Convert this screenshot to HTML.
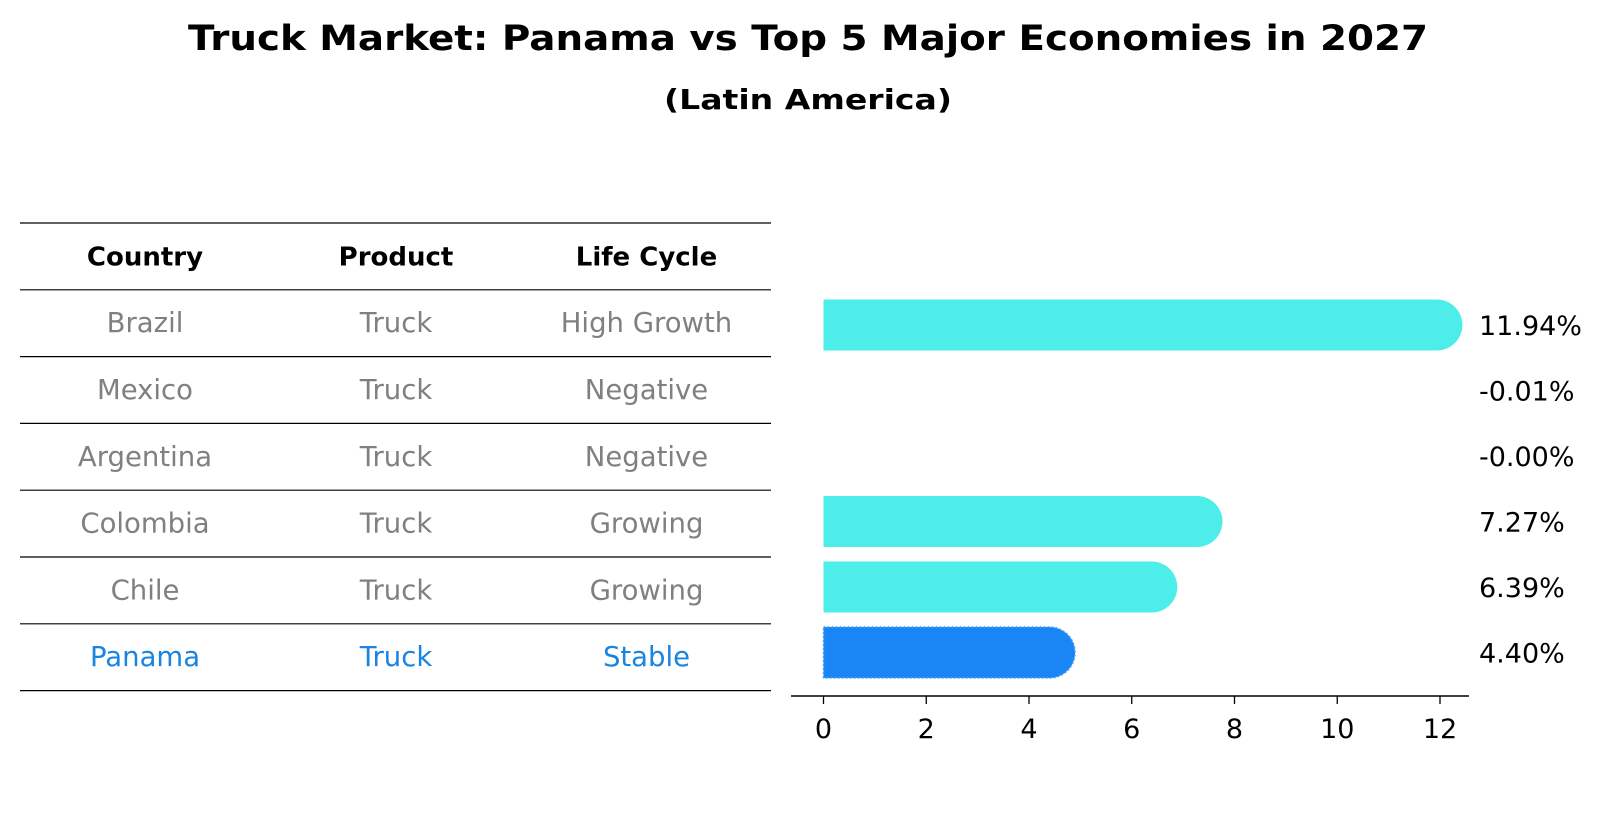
<!DOCTYPE html>
<html><head><meta charset="utf-8"><style>body{margin:0;background:#fff}svg{display:block;font-family:"DejaVu Sans","Liberation Sans",sans-serif}</style></head>
<body>
<svg id="c" width="1604" height="823" viewBox="0 0 1604 823">
<text x="808" y="50" text-anchor="middle" font-size="35" font-weight="bold" textLength="1240" lengthAdjust="spacingAndGlyphs">Truck Market: Panama vs Top 5 Major Economies in 2027</text>
<text x="808" y="109" text-anchor="middle" font-size="28" font-weight="bold" textLength="288" lengthAdjust="spacingAndGlyphs">(Latin America)</text>
<g id="tbl"></g>
<g id="bars"></g>
</svg>
<script>
const countries=["Brazil","Mexico","Argentina","Colombia","Chile","Panama"];
const products=["Truck","Truck","Truck","Truck","Truck","Truck"];
const lifeCycles=["High Growth","Negative","Negative","Growing","Growing","Stable"];
const values=[11.94,-0.01,-0.00,7.27,6.39,4.40];
const valueLabels=["11.94%","-0.01%","-0.00%","7.27%","6.39%","4.40%"];
const ticks=[0,2,4,6,8,10,12];
const highlight="Panama";
const NS="http://www.w3.org/2000/svg";
function mk(t,a,p){const e=document.createElementNS(NS,t);for(const k in a)e.setAttribute(k,a[k]);p.appendChild(e);return e;}
const tbl=document.getElementById('tbl'),bars=document.getElementById('bars');
const lineY0=223,rowH=66.8,colX=[145,396,646.5];
for(let i=0;i<=countries.length+1;i++){
  const l=mk('line',{x1:20,x2:771,y1:lineY0+i*rowH,y2:lineY0+i*rowH,stroke:'#000','stroke-width':1.2},tbl);
  
  
}
["Country","Product","Life Cycle"].forEach((h,j)=>{
  const t=mk('text',{x:colX[j],y:lineY0+rowH/2+9,'text-anchor':'middle','font-size':26,'font-weight':'bold'},tbl);
  t.textContent=h;
  
  
});
countries.forEach((c,i)=>{
  const col=c===highlight?'#1a84e0':'#808080';
  [c,products[i],lifeCycles[i]].forEach((v,j)=>{
    const t=mk('text',{x:colX[j],y:lineY0+(i+1.5)*rowH+9,'text-anchor':'middle','font-size':27.5,fill:col},tbl);
    t.textContent=v;
    
    
  });
});
const x0=823.5,xPer=(1440-823.5)/12,rowY0=325,rowStep=65.5,bh=51,r=bh/2;
const xs=v=>x0+v*xPer;
countries.forEach((c,i)=>{
  const cy=rowY0+i*rowStep,v=values[i];
  if(v>0.005){
    const xe=xs(v),col=c===highlight?'#1a85f5':'#4deeea';
    const d=`M${x0},${cy-r} L${xe},${cy-r} A${r},${r} 0 0 1 ${xe},${cy+r} L${x0},${cy+r} Z`;
    const p=mk('path',{d:d,fill:col},bars);
    if(c===highlight){p.setAttribute('stroke','#4a9ff5');p.setAttribute('stroke-width','1.5');p.setAttribute('stroke-dasharray','2 2');}
    
    
  }
  const t=mk('text',{x:1479,y:cy+10,'font-size':27},bars);
  t.textContent=valueLabels[i];
  
  
});
const ax=mk('line',{x1:791,x2:1469,y1:696,y2:696,stroke:'#000','stroke-width':1.5},bars);


ticks.forEach(tv=>{
  const l=mk('line',{x1:xs(tv),x2:xs(tv),y1:696,y2:704,stroke:'#000','stroke-width':1.3},bars);
  
  
  const t=mk('text',{x:xs(tv),y:738,'text-anchor':'middle','font-size':27},bars);
  t.textContent=tv;
  
  
});
</script>
</body></html>
